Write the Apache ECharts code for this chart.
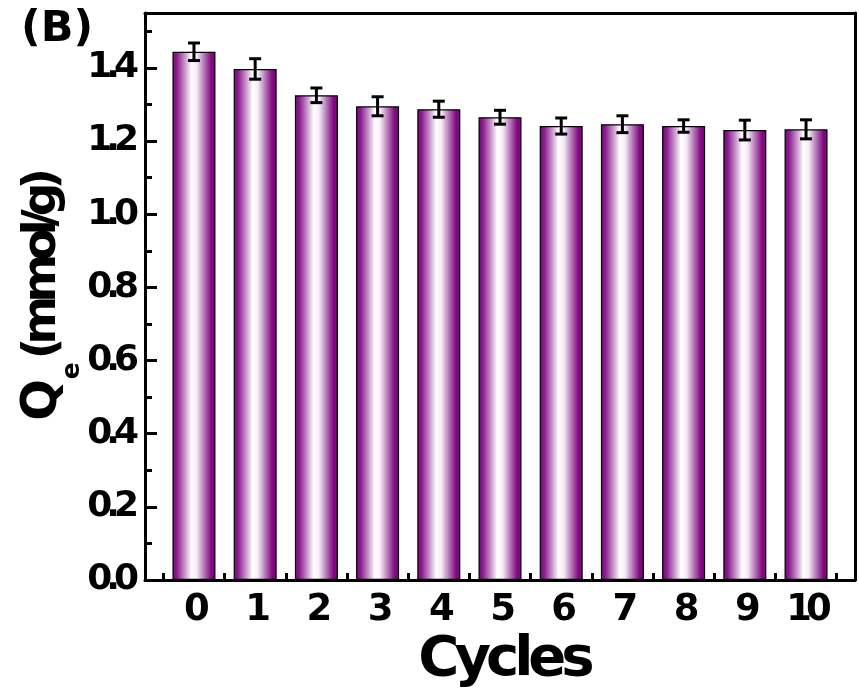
<!DOCTYPE html>
<html>
<head>
<meta charset="utf-8">
<script src="https://cdn.jsdelivr.net/npm/echarts@6/dist/echarts.min.js"></script>
<style>
  html, body { margin: 0; padding: 0; background: #fff; }
  #chart { width: 859px; height: 699px; }
</style>
</head>
<body>
<div id="chart"></div>
<script>
// ---- data ----
var cycles = [0, 1, 2, 3, 4, 5, 6, 7, 8, 9, 10];
var qe = [1.444, 1.397, 1.325, 1.295, 1.287, 1.265, 1.241, 1.246, 1.241, 1.230, 1.232];
var qeErr = [0.024, 0.028, 0.020, 0.026, 0.022, 0.019, 0.022, 0.023, 0.017, 0.027, 0.026];
var xTicks = [0, 1, 2, 3, 4, 5, 6, 7, 8, 9, 10];
var xMinorTicks = [-0.5, 0.5, 1.5, 2.5, 3.5, 4.5, 5.5, 6.5, 7.5, 8.5, 9.5, 10.5];
var yTicks = [0, 0.2, 0.4, 0.6, 0.8, 1.0, 1.2, 1.4];
var yMinorTicks = [0.1, 0.3, 0.5, 0.7, 0.9, 1.1, 1.3, 1.5];

var FONT = 'DejaVu Sans';
var X_MIN = -0.8, X_MAX = 10.8, Y_MIN = 0, Y_MAX = 1.55;

// tight letter spacing of the original figure's bold text (per font size)
(function () {
  var proto = CanvasRenderingContext2D.prototype;
  if (!('letterSpacing' in proto)) return;
  var orig = proto.fillText;
  var spacing = { '36': '-6px', '37': '-6px', '56': '-5px', '47': '-7px' };
  proto.fillText = function (t, x, y, w) {
    var m = /(\d+)px/.exec(this.font || '');
    this.letterSpacing = (m && spacing[m[1]]) || '0px';
    return w === undefined ? orig.call(this, t, x, y) : orig.call(this, t, x, y, w);
  };
})();

var barData = cycles.map(function (c, i) { return [c, qe[i]]; });
var errData = cycles.map(function (c, i) { return [c, qe[i], qeErr[i]]; });

var barGradient = new echarts.graphic.LinearGradient(0, 0, 1, 0, [
  { offset: 0.00, color: '#780a7c' },
  { offset: 0.10, color: '#8a1a8e' },
  { offset: 0.28, color: '#c690c8' },
  { offset: 0.44, color: '#ffffff' },
  { offset: 0.56, color: '#f6ecf6' },
  { offset: 0.74, color: '#b374b5' },
  { offset: 0.90, color: '#82087f' },
  { offset: 1.00, color: '#780a7c' }
]);

var chart = echarts.init(document.getElementById('chart'));

var blackLine = { color: '#000', width: 3 };

chart.setOption({
  animation: false,
  backgroundColor: '#fff',
  title: {
    text: '{a|(}{a|B}{a|)}',
    left: 16,
    top: 3,
    textStyle: {
      rich: {
        a: { fontFamily: FONT, fontWeight: 'bold', fontSize: 43, color: '#000' }
      }
    }
  },
  grid: { left: 145, right: 4, top: 13, bottom: 119, containLabel: false, outerBoundsMode: 'none' },
  xAxis: [
    {
      type: 'value', min: X_MIN, max: X_MAX, position: 'bottom',
      axisLine: { show: true, onZero: false, lineStyle: blackLine },
      axisTick: { show: true, inside: true, length: 12, lineStyle: blackLine, customValues: xTicks },
      axisLabel: {
        show: true, customValues: xTicks, margin: 12,
        fontFamily: FONT, fontWeight: 'bold', fontSize: 37, color: '#000'
      },
      splitLine: { show: false },
      name: 'Cycles', nameLocation: 'middle', nameGap: 52, nameMoveOverlap: false,
      nameTextStyle: { fontFamily: FONT, fontWeight: 'bold', fontSize: 56, color: '#000', padding: [0, 0, 0, 8] }
    },
    {
      type: 'value', min: X_MIN, max: X_MAX, position: 'bottom',
      axisLine: { show: false, onZero: false },
      axisTick: { show: true, inside: true, length: 7, lineStyle: blackLine, customValues: xMinorTicks },
      axisLabel: { show: false },
      splitLine: { show: false }
    },
    {
      type: 'value', min: X_MIN, max: X_MAX, position: 'top',
      axisLine: { show: true, onZero: false, lineStyle: blackLine },
      axisTick: { show: false }, axisLabel: { show: false }, splitLine: { show: false }
    }
  ],
  yAxis: [
    {
      type: 'value', min: Y_MIN, max: Y_MAX, position: 'left',
      axisLine: { show: true, onZero: false, lineStyle: blackLine },
      axisTick: { show: true, inside: true, length: 12, lineStyle: blackLine, customValues: yTicks },
      axisLabel: {
        show: true, customValues: yTicks, margin: 12,
        fontFamily: FONT, fontWeight: 'bold', fontSize: 36, color: '#000',
        formatter: function (v) { return v.toFixed(1); }
      },
      splitLine: { show: false },
      name: '{q|Q}{e|e}{u|(mmol/g)}',
      nameLocation: 'middle', nameRotate: 90, nameGap: 60, nameMoveOverlap: false,
      nameTextStyle: {
        rich: {
          q: { fontFamily: FONT, fontWeight: 'bold', fontSize: 49, color: '#000', lineHeight: 46, verticalAlign: 'top' },
          e: { fontFamily: FONT, fontWeight: 'bold', fontSize: 25, color: '#000', lineHeight: 66, verticalAlign: 'bottom' },
          u: { fontFamily: FONT, fontWeight: 'bold', fontSize: 47, color: '#000', lineHeight: 46, verticalAlign: 'top', width: 190 }
        }
      }
    },
    {
      type: 'value', min: Y_MIN, max: Y_MAX, position: 'left',
      axisLine: { show: false, onZero: false },
      axisTick: { show: true, inside: true, length: 7, lineStyle: blackLine, customValues: yMinorTicks },
      axisLabel: { show: false },
      splitLine: { show: false }
    },
    {
      type: 'value', min: Y_MIN, max: Y_MAX, position: 'right',
      axisLine: { show: true, onZero: false, lineStyle: blackLine },
      axisTick: { show: false }, axisLabel: { show: false }, splitLine: { show: false }
    }
  ],
  series: [
    {
      type: 'bar',
      xAxisIndex: 0, yAxisIndex: 0,
      data: barData,
      barWidth: 43,
      itemStyle: { color: barGradient, borderColor: '#000', borderWidth: 1.2 }
    },
    {
      type: 'custom',
      xAxisIndex: 0, yAxisIndex: 0,
      data: errData,
      z: 5,
      renderItem: function (params, api) {
        var x = api.value(0), v = api.value(1), e = api.value(2);
        var top = api.coord([x, v + e]);
        var bot = api.coord([x, v - e]);
        var hw = 6;
        var st = { stroke: '#000', lineWidth: 3 };
        return {
          type: 'group',
          children: [
            { type: 'line', shape: { x1: top[0], y1: top[1], x2: bot[0], y2: bot[1] }, style: st },
            { type: 'line', shape: { x1: top[0] - hw, y1: top[1], x2: top[0] + hw, y2: top[1] }, style: st },
            { type: 'line', shape: { x1: bot[0] - hw, y1: bot[1], x2: bot[0] + hw, y2: bot[1] }, style: st }
          ]
        };
      }
    }
  ]
});
</script>
</body>
</html>
